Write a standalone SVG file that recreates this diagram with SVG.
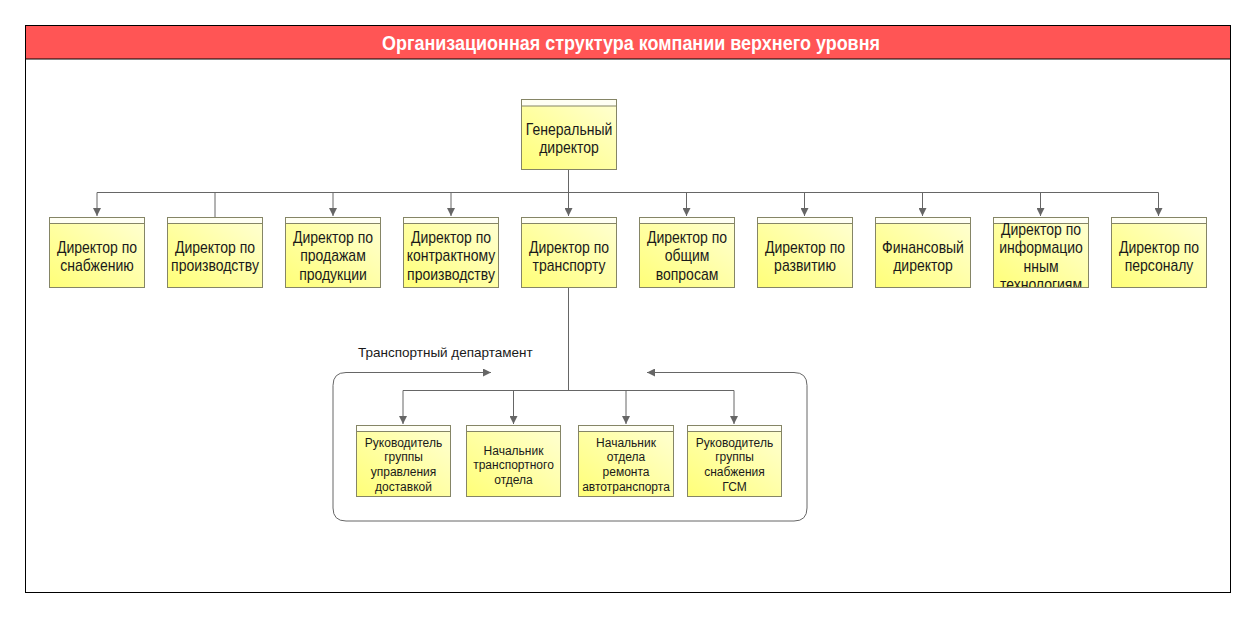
<svg xmlns="http://www.w3.org/2000/svg" width="1256" height="618" viewBox="0 0 1256 618">
<style>
.frame{fill:#fff;stroke:#000;stroke-width:1}
.bar{fill:#ff5555;stroke:#000;stroke-width:1}
.title{font-family:"Liberation Sans",Arial,sans-serif;font-weight:bold;font-size:21px;fill:#fff}
.box{fill:url(#yg);stroke:#858566;stroke-width:1}
.hdr{fill:#fffff4;stroke:#858566;stroke-width:1}
.t{font-family:"Liberation Sans",Arial,sans-serif;font-size:16px;fill:#1a1a1a;text-anchor:middle}
.s{font-family:"Liberation Sans",Arial,sans-serif;font-size:12px;fill:#1a1a1a;text-anchor:middle}
.lbl{font-family:"Liberation Sans",Arial,sans-serif;font-size:13.5px;fill:#1a1a1a}
.c{fill:none;stroke:#666;stroke-width:1}
</style>
<defs>
<linearGradient id="yg" x1="0" y1="1" x2="1" y2="0">
<stop offset="0" stop-color="#ffff78"/>
<stop offset="1" stop-color="#ffffd4"/>
</linearGradient>
<marker id="ah" viewBox="0 0 10 10" refX="10" refY="5" markerWidth="8" markerHeight="8" markerUnits="userSpaceOnUse" orient="auto">
<path d="M0,0 L10,5 L0,10 z" fill="#666"/>
</marker>
<clipPath id="clipIT"><rect x="993" y="217" width="95" height="70"/></clipPath>
</defs>

<rect class="frame" x="25.5" y="25.5" width="1205" height="567"/>
<rect class="bar" x="25.5" y="25.5" width="1205" height="33.5"/>
<text class="title" x="631" y="50" text-anchor="middle" textLength="498" lengthAdjust="spacingAndGlyphs">Организационная структура компании верхнего уровня</text>

<g id="connectors">
<path class="c" d="M568.5,169 V192.5"/>
<path class="c" d="M97,192.5 H1158.5"/>
<path class="c" d="M97,192.5 V216" marker-end="url(#ah)"/>
<path class="c" d="M215,192.5 V217"/>
<path class="c" d="M333,192.5 V216" marker-end="url(#ah)"/>
<path class="c" d="M451,192.5 V216" marker-end="url(#ah)"/>
<path class="c" d="M568.5,192.5 V216" marker-end="url(#ah)"/>
<path class="c" d="M686.5,192.5 V216" marker-end="url(#ah)"/>
<path class="c" d="M804.5,192.5 V216" marker-end="url(#ah)"/>
<path class="c" d="M922.5,192.5 V216" marker-end="url(#ah)"/>
<path class="c" d="M1040.5,192.5 V216" marker-end="url(#ah)"/>
<path class="c" d="M1158.5,192.5 V216" marker-end="url(#ah)"/>
<path class="c" d="M568.5,287 V390.5"/>
<path class="c" d="M403,390.5 H734"/>
<path class="c" d="M403,390.5 V424" marker-end="url(#ah)"/>
<path class="c" d="M513.5,390.5 V424" marker-end="url(#ah)"/>
<path class="c" d="M626,390.5 V424" marker-end="url(#ah)"/>
<path class="c" d="M734,390.5 V424" marker-end="url(#ah)"/>
</g>

<g id="transport-department">
<path class="c" d="M570,521 H346 Q333,521 333,508 V385.5 Q333,372.5 346,372.5 H491" marker-end="url(#ah)"/>
<path class="c" d="M570,521 H794 Q807,521 807,508 V385.5 Q807,372.5 794,372.5 H647" marker-end="url(#ah)"/>
<text class="lbl" x="358" y="356.5">Транспортный департамент</text>
</g>

<g id="n-gen">
<rect class="box" x="521.5" y="99.5" width="95" height="70"/>
<rect class="hdr" x="521.5" y="99.5" width="95" height="6.5"/>
<text class="t" transform="translate(569 0) scale(0.875 1)"><tspan x="0" y="135">Генеральный</tspan><tspan x="0" y="153.5">директор</tspan></text>
</g>

<g id="n-supply">
<rect class="box" x="49.5" y="217.5" width="95" height="70"/>
<rect class="hdr" x="49.5" y="217.5" width="95" height="6"/>
<text class="t" transform="translate(97 0) scale(0.875 1)"><tspan x="0" y="253">Директор по</tspan><tspan x="0" y="271.5">снабжению</tspan></text>
</g>

<g id="n-prod">
<rect class="box" x="167.5" y="217.5" width="95" height="70"/>
<rect class="hdr" x="167.5" y="217.5" width="95" height="6"/>
<text class="t" transform="translate(215 0) scale(0.875 1)"><tspan x="0" y="253">Директор по</tspan><tspan x="0" y="271.5">производству</tspan></text>
</g>

<g id="n-sales">
<rect class="box" x="285.5" y="217.5" width="95" height="70"/>
<rect class="hdr" x="285.5" y="217.5" width="95" height="6"/>
<text class="t" transform="translate(333 0) scale(0.875 1)"><tspan x="0" y="243">Директор по</tspan><tspan x="0" y="261.5">продажам</tspan><tspan x="0" y="280">продукции</tspan></text>
</g>

<g id="n-contract">
<rect class="box" x="403.5" y="217.5" width="95" height="70"/>
<rect class="hdr" x="403.5" y="217.5" width="95" height="6"/>
<text class="t" transform="translate(451 0) scale(0.875 1)"><tspan x="0" y="243">Директор по</tspan><tspan x="0" y="261.5">контрактному</tspan><tspan x="0" y="280">производству</tspan></text>
</g>

<g id="n-transport">
<rect class="box" x="521.5" y="217.5" width="95" height="70"/>
<rect class="hdr" x="521.5" y="217.5" width="95" height="6"/>
<text class="t" transform="translate(569 0) scale(0.875 1)"><tspan x="0" y="253">Директор по</tspan><tspan x="0" y="271.5">транспорту</tspan></text>
</g>

<g id="n-general">
<rect class="box" x="639.5" y="217.5" width="95" height="70"/>
<rect class="hdr" x="639.5" y="217.5" width="95" height="6"/>
<text class="t" transform="translate(687 0) scale(0.875 1)"><tspan x="0" y="243">Директор по</tspan><tspan x="0" y="261.5">общим</tspan><tspan x="0" y="280">вопросам</tspan></text>
</g>

<g id="n-dev">
<rect class="box" x="757.5" y="217.5" width="95" height="70"/>
<rect class="hdr" x="757.5" y="217.5" width="95" height="6"/>
<text class="t" transform="translate(805 0) scale(0.875 1)"><tspan x="0" y="253">Директор по</tspan><tspan x="0" y="271.5">развитию</tspan></text>
</g>

<g id="n-fin">
<rect class="box" x="875.5" y="217.5" width="95" height="70"/>
<rect class="hdr" x="875.5" y="217.5" width="95" height="6"/>
<text class="t" transform="translate(923 0) scale(0.875 1)"><tspan x="0" y="253">Финансовый</tspan><tspan x="0" y="271.5">директор</tspan></text>
</g>

<g id="n-it">
<rect class="box" x="993.5" y="217.5" width="95" height="70"/>
<rect class="hdr" x="993.5" y="217.5" width="95" height="6"/>
<g clip-path="url(#clipIT)">
<text class="t" transform="translate(1041 0) scale(0.875 1)"><tspan x="0" y="235">Директор по</tspan><tspan x="0" y="253.5">информацио</tspan><tspan x="0" y="272">нным</tspan><tspan x="0" y="290.5">технологиям</tspan></text>
</g>
</g>

<g id="n-hr">
<rect class="box" x="1111.5" y="217.5" width="95" height="70"/>
<rect class="hdr" x="1111.5" y="217.5" width="95" height="6"/>
<text class="t" transform="translate(1159 0) scale(0.875 1)"><tspan x="0" y="253">Директор по</tspan><tspan x="0" y="271.5">персоналу</tspan></text>
</g>

<g id="n-delivery">
<rect class="box" x="356.5" y="425.5" width="94" height="71"/>
<rect class="hdr" x="356.5" y="425.5" width="94" height="6"/>
<text class="s"><tspan x="403.5" y="446.5">Руководитель</tspan><tspan x="403.5" y="461.2">группы</tspan><tspan x="403.5" y="475.9">управления</tspan><tspan x="403.5" y="490.6">доставкой</tspan></text>
</g>

<g id="n-transport-dept">
<rect class="box" x="466.5" y="425.5" width="94" height="71"/>
<rect class="hdr" x="466.5" y="425.5" width="94" height="6"/>
<text class="s"><tspan x="513.5" y="454.5">Начальник</tspan><tspan x="513.5" y="469">транспортного</tspan><tspan x="513.5" y="483.5">отдела</tspan></text>
</g>

<g id="n-repair">
<rect class="box" x="578.5" y="425.5" width="95" height="71"/>
<rect class="hdr" x="578.5" y="425.5" width="95" height="6"/>
<text class="s"><tspan x="626" y="446.5">Начальник</tspan><tspan x="626" y="461.2">отдела</tspan><tspan x="626" y="475.9">ремонта</tspan><tspan x="626" y="490.6">автотранспорта</tspan></text>
</g>

<g id="n-fuel">
<rect class="box" x="687.5" y="425.5" width="94" height="71"/>
<rect class="hdr" x="687.5" y="425.5" width="94" height="6"/>
<text class="s"><tspan x="734.5" y="446.5">Руководитель</tspan><tspan x="734.5" y="461.2">группы</tspan><tspan x="734.5" y="475.9">снабжения</tspan><tspan x="734.5" y="490.6">ГСМ</tspan></text>
</g>
</svg>
